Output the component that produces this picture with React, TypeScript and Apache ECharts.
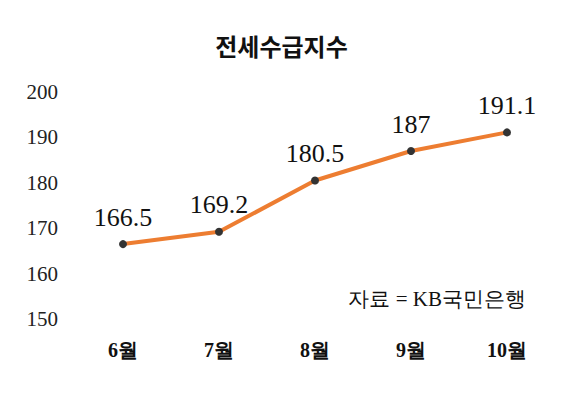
import React, { useEffect, useRef } from "react";
import * as echarts from "echarts";

const categories = ["6월", "7월", "8월", "9월", "10월"];
const values = [166.5, 169.2, 180.5, 187, 191.1];
const titleText = "전세수급지수";
const sourceText = "자료 = KB국민은행";

const SERIF = "'Times New Roman', 'Liberation Serif', Times, serif";

export default function App() {
  const ref = useRef<HTMLDivElement>(null);
  useEffect(() => {
    const chart = echarts.init(ref.current!, null, { renderer: "svg" });
    chart.setOption({
      animation: false,
      backgroundColor: "#ffffff",
      title: {
        text: titleText,
        left: "center",
        top: 28,
        textStyle: {
          fontFamily: "'Noto Sans CJK KR'",
          fontSize: 24,
          fontWeight: "bold",
          color: "#111",
        },
      },
      grid: { left: 75, right: 8, top: 92, bottom: 77 },
      xAxis: {
        type: "category",
        data: categories,
        boundaryGap: true,
        axisLine: { show: false },
        axisTick: { show: false },
        axisLabel: {
          margin: 21,
          fontFamily: SERIF,
          fontSize: 20,
          fontWeight: "bold",
          color: "#111",
        },
      },
      yAxis: {
        type: "value",
        min: 150,
        max: 200,
        interval: 10,
        splitLine: { show: false },
        axisLine: { show: false },
        axisTick: { show: false },
        axisLabel: {
          margin: 17,
          fontFamily: SERIF,
          fontSize: 21,
          color: "#222",
        },
      },
      series: [
        {
          type: "line",
          data: values,
          symbol: "circle",
          symbolSize: 8,
          itemStyle: { color: "#333333" },
          lineStyle: { color: "#ED7D31", width: 4 },
          label: {
            show: true,
            position: "top",
            distance: 10,
            fontFamily: SERIF,
            fontSize: 26,
            color: "#111",
          },
        },
      ],
      graphic: [
        {
          type: "text",
          right: 37,
          top: 288,
          style: {
            text: sourceText,
            fontFamily: SERIF,
            fontSize: 21,
            fill: "#111",
          },
        },
      ],
    });
    return () => chart.dispose();
  }, []);
  return (
    <div
      ref={ref}
      style={{ position: "absolute", left: 0, top: 0, width: 563, height: 396 }}
    />
  );
}
